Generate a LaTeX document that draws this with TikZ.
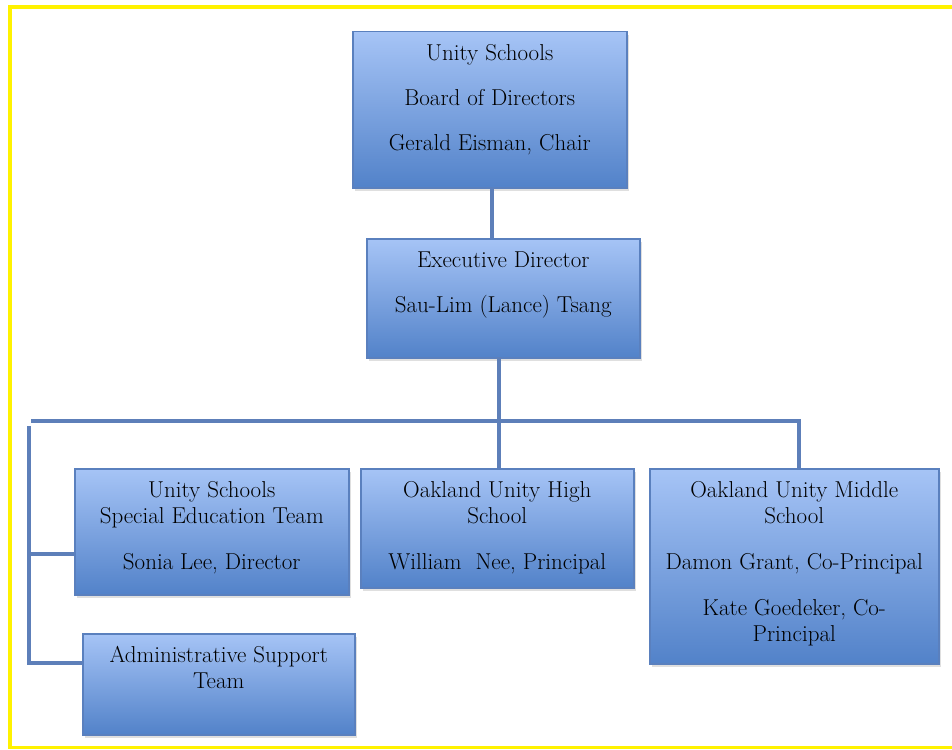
\documentclass[tikz,border=0pt]{standalone}
\usetikzlibrary{shadows}

\definecolor{boxtop}{HTML}{A6C4F6}
\definecolor{boxbot}{HTML}{5282C9}
\definecolor{boxline}{HTML}{5A80BE}
\definecolor{linkblue}{HTML}{5D7FB9}

\tikzset{
  orgbox/.style={draw=boxline, line width=1.5pt, top color=boxtop, bottom color=boxbot,
    inner sep=0pt, anchor=north west, font=\fontsize{23}{26}\selectfont,
    drop shadow={opacity=0.25, shadow xshift=2pt, shadow yshift=-3pt}},
  link/.style={draw=linkblue, line width=4pt}
}

\begin{document}
\begin{tikzpicture}[x=1pt, y=-1pt]
	\useasboundingbox (0,0) rectangle (952,749);
	% frame
	\draw[yellow, line width=4pt] (952,7) -- (10,7) -- (10,749);
	\draw[yellow, line width=3pt] (10,747.5) -- (952,747.5);

	\node [orgbox] (board) at (352,31) {\parbox[t][156pt][t]{274pt}{\centering\vspace*{11pt}\strut Unity Schools\\[19pt] Board of Directors\\[19pt] Gerald Eisman, Chair}};
	\node [orgbox] (exec) at (366,238) {\parbox[t][119pt][t]{273pt}{\centering\vspace*{11pt}\strut Executive Director\\[19pt] Sau-Lim (Lance) Tsang}};

	\node [orgbox] (sped) at (74,468) {\parbox[t][126pt][t]{274pt}{\centering\vspace*{11pt}\strut Unity Schools\\ Special Education Team\\[20pt] Sonia Lee, Director}};
	\node [orgbox] (high) at (360,468) {\parbox[t][119pt][t]{273pt}{\centering\vspace*{11pt}\strut Oakland Unity High\\ School\\[20pt] William\ \ Nee, Principal}};
	\node [orgbox] (middle) at (649,468) {\parbox[t][195pt][t]{289pt}{\centering\vspace*{11pt}\strut Oakland Unity Middle\\ School\\[20pt] Damon Grant, Co-Principal\\[20pt] Kate Goedeker, Co-\\ Principal}};
	\node [orgbox] (admin) at (82,633) {\parbox[t][101pt][t]{272pt}{\centering\vspace*{11pt}\strut Administrative Support\\ Team}};

	\coordinate (barL) at (29,421);
	\coordinate (barR) at (799,421);
	\coordinate (sped-in) at (74,554);
	\coordinate (admin-in) at (82,663);

	\draw [link] (board.south -| 492,0) -- (exec.north -| 492,0);
	\draw [link] (high.north -| exec.south) ++(-4,0) -- ++(0,-111);
	\draw [link] (barL) ++(2,0) -- (barR) -- (barR |- middle.north);
	\draw [link] (barL) ++(0,5) -- (barL |- admin-in) -- (admin-in);
	\draw [link] (barL |- sped-in) -- (sped-in);
\end{tikzpicture}
\end{document}
